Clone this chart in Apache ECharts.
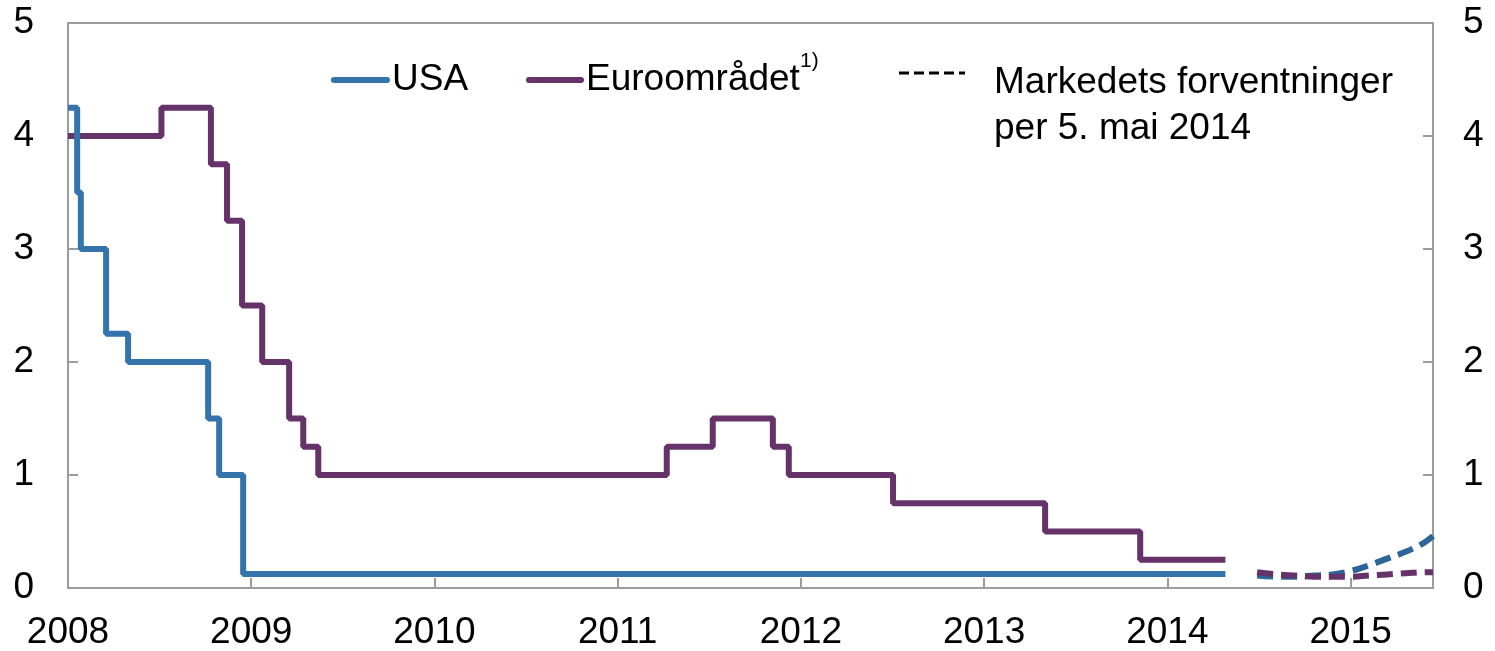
<!DOCTYPE html>
<html>
<head>
<meta charset="utf-8">
<script src="https://cdn.jsdelivr.net/npm/echarts@6/dist/echarts.min.js"></script>
<style>
html,body{margin:0;padding:0;background:#fff;}
#c{width:1495px;height:651px;}
</style>
</head>
<body>
<div id="c"></div>
<script>
// Policy rates, decimal-year change dates and new levels
var usaDates = [2008.0, 2008.05, 2008.07, 2008.208, 2008.328, 2008.765, 2008.825, 2008.956, 2014.317];
var usaRates = [4.25, 3.5, 3.0, 2.25, 2.0, 1.5, 1.0, 0.125, 0.125];

var euroDates = [2008.0, 2008.51, 2008.78, 2008.868, 2008.95, 2009.06, 2009.207, 2009.284, 2009.366, 2011.268, 2011.519, 2011.847, 2011.934, 2012.503, 2013.333, 2013.852, 2014.317];
var euroRates = [4.0, 4.25, 3.75, 3.25, 2.5, 2.0, 1.5, 1.25, 1.0, 1.25, 1.5, 1.25, 1.0, 0.75, 0.5, 0.25, 0.25];

// Market expectations per 5 May 2014
var fcDates = [2014.49, 2014.6, 2014.7, 2014.8, 2014.9, 2015.0, 2015.1, 2015.2, 2015.3, 2015.4, 2015.45];
var usaForecast = [0.11, 0.10, 0.10, 0.11, 0.12, 0.15, 0.20, 0.26, 0.32, 0.40, 0.46];
var euroForecast = [0.14, 0.12, 0.11, 0.10, 0.10, 0.10, 0.11, 0.12, 0.13, 0.14, 0.14];

var yTicks = [0, 1, 2, 3, 4, 5];
var xMin = 2008, xMax = 2015.45;

function zip(a, b) { return a.map(function (v, i) { return [v, b[i]]; }); }

var FONT = "'Liberation Sans', Arial, sans-serif";
var FS = 37;
var GRAY = '#9c9c9c';
var BLUE = '#3474aa';
var PURPLE = '#66326a';
var LW = 6;

var chart = echarts.init(document.getElementById('c'), null, {renderer: 'canvas'});

function yAxis(pos, margin) {
  return {
    type: 'value', position: pos, min: yTicks[0], max: yTicks[yTicks.length - 1], interval: 1,
    axisLine: {show: true, lineStyle: {color: GRAY, width: 2}},
    axisTick: {show: true, inside: true, length: 10, lineStyle: {color: GRAY, width: 2}},
    splitLine: {show: false},
    axisLabel: {fontFamily: FONT, fontSize: FS, color: '#000', margin: margin}
  };
}

chart.setOption({
  animation: false,
  backgroundColor: '#fff',
  grid: {left: 68, right: 62, top: 23, bottom: 63, show: true, borderColor: GRAY, borderWidth: 2, containLabel: false},
  xAxis: {
    type: 'value', min: xMin, max: xMax, interval: 1,
    axisLine: {show: true, lineStyle: {color: GRAY, width: 2}},
    axisTick: {show: true, inside: true, length: 10, lineStyle: {color: GRAY, width: 2}},
    splitLine: {show: false},
    axisLabel: {
      fontFamily: FONT, fontSize: FS, color: '#000', margin: 26, showMaxLabel: false,
      formatter: function (v) { return Math.abs(v - Math.round(v)) < 1e-6 ? String(Math.round(v)) : ''; }
    }
  },
  yAxis: [yAxis('left', 34), yAxis('right', 30)],
  series: [
    {type: 'line', name: 'USA', step: 'end', data: zip(usaDates, usaRates), showSymbol: false,
     lineStyle: {color: BLUE, width: LW}, z: 3},
    {type: 'line', name: 'Euroområdet', step: 'end', data: zip(euroDates, euroRates), showSymbol: false,
     lineStyle: {color: PURPLE, width: LW}, z: 2},
    {type: 'line', name: 'USA forventning', data: zip(fcDates, usaForecast), showSymbol: false, smooth: 0.4,
     lineStyle: {color: '#2c6698', width: LW, type: [16, 8], cap: 'butt'}, z: 2},
    {type: 'line', name: 'Euro forventning', data: zip(fcDates, euroForecast), showSymbol: false, smooth: 0.4,
     lineStyle: {color: PURPLE, width: LW, type: [16, 8], cap: 'butt'}, z: 3}
  ],
  graphic: [
    {type: 'line', shape: {x1: 334, y1: 80, x2: 387, y2: 80}, style: {stroke: BLUE, lineWidth: 6, lineCap: 'round'}},
    {type: 'text', x: 392, y: 80, style: {text: 'USA', font: FS + 'px ' + FONT, fill: '#000', verticalAlign: 'middle'}},
    {type: 'line', shape: {x1: 529, y1: 80, x2: 581, y2: 80}, style: {stroke: PURPLE, lineWidth: 6, lineCap: 'round'}},
    {type: 'text', x: 586, y: 80, style: {text: 'Euroområdet', font: FS + 'px ' + FONT, fill: '#000', verticalAlign: 'middle'}},
    {type: 'text', x: 800, y: 61, style: {text: '1)', font: '21px ' + FONT, fill: '#000', verticalAlign: 'middle'}},
    {type: 'line', shape: {x1: 899, y1: 73, x2: 965, y2: 73}, style: {stroke: '#000', lineWidth: 3, lineDash: [10, 5]}},
    {type: 'text', x: 994, y: 83, style: {text: 'Markedets forventninger', font: FS + 'px ' + FONT, fill: '#000', verticalAlign: 'middle'}},
    {type: 'text', x: 994, y: 129, style: {text: 'per 5. mai 2014', font: FS + 'px ' + FONT, fill: '#000', verticalAlign: 'middle'}}
  ]
});
</script>
</body>
</html>
